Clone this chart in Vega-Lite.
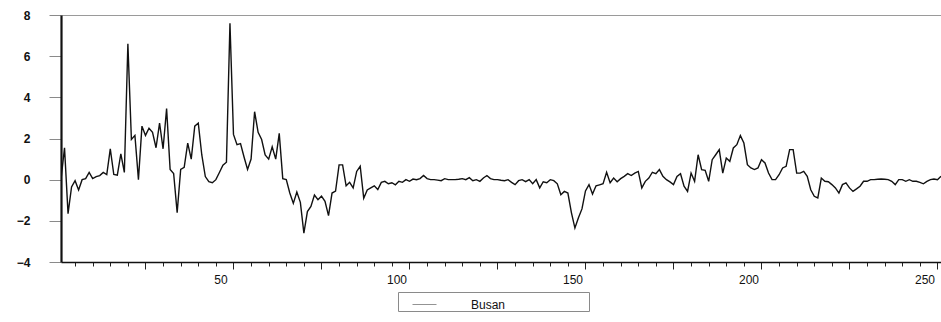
{
  "$schema": "https://vega.github.io/schema/vega-lite/v6.json",
  "width": 880,
  "height": 247,
  "autosize": {"type": "none"},
  "padding": {"left": 61, "top": 15, "right": 0, "bottom": 60},
  "background": "white",
  "config": {
    "view": {"stroke": "#9a9a9a", "strokeWidth": 1},
    "font": "Liberation Sans",
    "axis": {"labelFont": "Liberation Sans", "labelFontSize": 12, "labelColor": "#111", "grid": false}
  },
  "data": {"values": [
    {"t":1,"v":0.0},{"t":2,"v":1.55},{"t":3,"v":-1.65},{"t":4,"v":-0.35},{"t":5,"v":-0.05},{"t":6,"v":-0.5},{"t":7,"v":0.0},{"t":8,"v":0.05},{"t":9,"v":0.35},{"t":10,"v":0.05},
    {"t":11,"v":0.15},{"t":12,"v":0.2},{"t":13,"v":0.35},{"t":14,"v":0.25},{"t":15,"v":1.5},{"t":16,"v":0.25},{"t":17,"v":0.22},{"t":18,"v":1.25},{"t":19,"v":0.35},{"t":20,"v":6.6},
    {"t":21,"v":1.95},{"t":22,"v":2.15},{"t":23,"v":0.0},{"t":24,"v":2.6},{"t":25,"v":2.15},{"t":26,"v":2.5},{"t":27,"v":2.3},{"t":28,"v":1.55},{"t":29,"v":2.75},{"t":30,"v":1.5},
    {"t":31,"v":3.45},{"t":32,"v":0.5},{"t":33,"v":0.3},{"t":34,"v":-1.6},{"t":35,"v":0.5},{"t":36,"v":0.6},{"t":37,"v":1.78},{"t":38,"v":1.0},{"t":39,"v":2.6},{"t":40,"v":2.75},
    {"t":41,"v":1.2},{"t":42,"v":0.15},{"t":43,"v":-0.1},{"t":44,"v":-0.15},{"t":45,"v":0.0},{"t":46,"v":0.35},{"t":47,"v":0.7},{"t":48,"v":0.85},{"t":49,"v":7.6},{"t":50,"v":2.2},
    {"t":51,"v":1.7},{"t":52,"v":1.75},{"t":53,"v":1.1},{"t":54,"v":0.5},{"t":55,"v":1.0},{"t":56,"v":3.3},{"t":57,"v":2.3},{"t":58,"v":1.95},{"t":59,"v":1.2},{"t":60,"v":1.0},
    {"t":61,"v":1.6},{"t":62,"v":1.0},{"t":63,"v":2.25},{"t":64,"v":0.05},{"t":65,"v":0.0},{"t":66,"v":-0.65},{"t":67,"v":-1.15},{"t":68,"v":-0.6},{"t":69,"v":-1.1},{"t":70,"v":-2.6},
    {"t":71,"v":-1.55},{"t":72,"v":-1.3},{"t":73,"v":-0.75},{"t":74,"v":-0.97},{"t":75,"v":-0.8},{"t":76,"v":-1.05},{"t":77,"v":-1.75},{"t":78,"v":-0.65},{"t":79,"v":-0.55},{"t":80,"v":0.72},
    {"t":81,"v":0.72},{"t":82,"v":-0.3},{"t":83,"v":-0.13},{"t":84,"v":-0.4},{"t":85,"v":0.4},{"t":86,"v":0.65},{"t":87,"v":-0.9},{"t":88,"v":-0.5},{"t":89,"v":-0.4},{"t":90,"v":-0.3},
    {"t":91,"v":-0.48},{"t":92,"v":-0.13},{"t":93,"v":-0.08},{"t":94,"v":-0.2},{"t":95,"v":-0.15},{"t":96,"v":-0.25},{"t":97,"v":-0.08},{"t":98,"v":-0.13},{"t":99,"v":0.0},{"t":100,"v":-0.08},
    {"t":101,"v":0.03},{"t":102,"v":0.0},{"t":103,"v":0.05},{"t":104,"v":0.2},{"t":105,"v":0.05},{"t":106,"v":0.0},{"t":107,"v":0.0},{"t":108,"v":-0.02},{"t":109,"v":-0.05},{"t":110,"v":0.05},
    {"t":111,"v":0.0},{"t":112,"v":0.0},{"t":113,"v":0.0},{"t":114,"v":0.02},{"t":115,"v":0.05},{"t":116,"v":0.0},{"t":117,"v":0.1},{"t":118,"v":-0.05},{"t":119,"v":0.0},{"t":120,"v":-0.08},
    {"t":121,"v":0.08},{"t":122,"v":0.2},{"t":123,"v":0.05},{"t":124,"v":0.0},{"t":125,"v":0.0},{"t":126,"v":-0.03},{"t":127,"v":-0.05},{"t":128,"v":0.0},{"t":129,"v":-0.13},{"t":130,"v":-0.24},
    {"t":131,"v":-0.05},{"t":132,"v":0.0},{"t":133,"v":-0.1},{"t":134,"v":0.0},{"t":135,"v":-0.2},{"t":136,"v":0.0},{"t":137,"v":-0.4},{"t":138,"v":-0.1},{"t":139,"v":-0.15},{"t":140,"v":0.0},
    {"t":141,"v":-0.05},{"t":142,"v":-0.2},{"t":143,"v":-0.73},{"t":144,"v":-0.57},{"t":145,"v":-0.65},{"t":146,"v":-1.6},{"t":147,"v":-2.35},{"t":148,"v":-1.85},{"t":149,"v":-1.42},{"t":150,"v":-0.55},
    {"t":151,"v":-0.24},{"t":152,"v":-0.7},{"t":153,"v":-0.3},{"t":154,"v":-0.25},{"t":155,"v":-0.2},{"t":156,"v":0.36},{"t":157,"v":-0.15},{"t":158,"v":0.08},{"t":159,"v":-0.1},{"t":160,"v":0.05},
    {"t":161,"v":0.16},{"t":162,"v":0.29},{"t":163,"v":0.2},{"t":164,"v":0.32},{"t":165,"v":0.4},{"t":166,"v":-0.4},{"t":167,"v":-0.08},{"t":168,"v":0.08},{"t":169,"v":0.36},{"t":170,"v":0.29},
    {"t":171,"v":0.49},{"t":172,"v":0.16},{"t":173,"v":0.0},{"t":174,"v":-0.11},{"t":175,"v":-0.24},{"t":176,"v":0.16},{"t":177,"v":0.29},{"t":178,"v":-0.32},{"t":179,"v":-0.57},{"t":180,"v":0.32},
    {"t":181,"v":-0.08},{"t":182,"v":1.21},{"t":183,"v":0.49},{"t":184,"v":0.45},{"t":185,"v":-0.08},{"t":186,"v":0.97},{"t":187,"v":1.21},{"t":188,"v":1.46},{"t":189,"v":0.32},{"t":190,"v":1.05},
    {"t":191,"v":0.89},{"t":192,"v":1.54},{"t":193,"v":1.7},{"t":194,"v":2.14},{"t":195,"v":1.78},{"t":196,"v":0.73},{"t":197,"v":0.57},{"t":198,"v":0.49},{"t":199,"v":0.57},{"t":200,"v":0.97},
    {"t":201,"v":0.81},{"t":202,"v":0.32},{"t":203,"v":0.0},{"t":204,"v":0.0},{"t":205,"v":0.24},{"t":206,"v":0.57},{"t":207,"v":0.65},{"t":208,"v":1.46},{"t":209,"v":1.46},{"t":210,"v":0.32},
    {"t":211,"v":0.32},{"t":212,"v":0.4},{"t":213,"v":0.16},{"t":214,"v":-0.49},{"t":215,"v":-0.81},{"t":216,"v":-0.89},{"t":217,"v":0.08},{"t":218,"v":-0.08},{"t":219,"v":-0.1},{"t":220,"v":-0.24},
    {"t":221,"v":-0.4},{"t":222,"v":-0.65},{"t":223,"v":-0.24},{"t":224,"v":-0.16},{"t":225,"v":-0.4},{"t":226,"v":-0.57},{"t":227,"v":-0.45},{"t":228,"v":-0.32},{"t":229,"v":-0.08},{"t":230,"v":-0.08},
    {"t":231,"v":0.0},{"t":232,"v":0.0},{"t":233,"v":0.02},{"t":234,"v":0.03},{"t":235,"v":0.02},{"t":236,"v":0.0},{"t":237,"v":-0.08},{"t":238,"v":-0.24},{"t":239,"v":0.0},{"t":240,"v":0.0},
    {"t":241,"v":-0.08},{"t":242,"v":0.0},{"t":243,"v":-0.08},{"t":244,"v":-0.08},{"t":245,"v":-0.13},{"t":246,"v":-0.2},{"t":247,"v":-0.08},{"t":248,"v":0.0},{"t":249,"v":0.03},{"t":250,"v":0.0},
    {"t":251,"v":0.16}
  ]},
  "mark": {"type": "line", "strokeWidth": 1.4, "strokeJoin": "miter", "clip": true},
  "encoding": {
    "x": {
      "field": "t", "type": "quantitative",
      "scale": {"domain": [1, 251], "nice": false, "zero": false},
      "axis": {
        "title": null,
        "orient": "bottom",
        "values": [5, 10, 15, 20, 25, 30, 35, 40, 45, 50, 55, 60, 65, 70, 75, 80, 85, 90, 95, 100, 105, 110, 115, 120, 125, 130, 135, 140, 145, 150, 155, 160, 165, 170, 175, 180, 185, 190, 195, 200, 205, 210, 215, 220, 225, 230, 235, 240, 245, 250],
        "labelExpr": "datum.value % 50 == 0 ? datum.label : ''",
        "tickSize": {"condition": {"test": "datum.value % 25 == 0", "value": 7}, "value": 4},
        "tickColor": "#222", "tickWidth": 1,
        "domainColor": "#111", "domainWidth": 1.5,
        "labelPadding": 5, "labelOffset": -13, "labelFontSize": 12
      }
    },
    "y": {
      "field": "v", "type": "quantitative",
      "scale": {"domain": [-4, 8], "nice": false, "zero": false},
      "axis": {
        "title": null,
        "values": [-4, -2, 0, 2, 4, 6, 8],
        "tickSize": 12, "tickColor": "#8a8a8a", "tickWidth": 1,
        "domainColor": "#111", "domainWidth": 2.2,
        "labelPadding": 19, "labelFontSize": 12, "labelFontWeight": "bold"
      }
    },
    "color": {
      "datum": "Busan",
      "type": "nominal",
      "scale": {"range": ["#111111"]},
      "legend": {
        "title": "\u00a0",
        "titleOrient": "right",
        "titlePadding": 84,
        "titleFontSize": 12,
        "orient": "none",
        "legendX": 337,
        "legendY": 277,
        "symbolType": "stroke",
        "symbolSize": 576,
        "symbolStrokeWidth": 1,
        "symbolOpacity": 0.45,
        "symbolOffset": 14,
        "labelFont": "Liberation Sans",
        "labelFontSize": 12,
        "labelColor": "#111",
        "labelOffset": 34,
        "strokeColor": "#8a8a8a",
        "padding": 0
      }
    }
  }
}
